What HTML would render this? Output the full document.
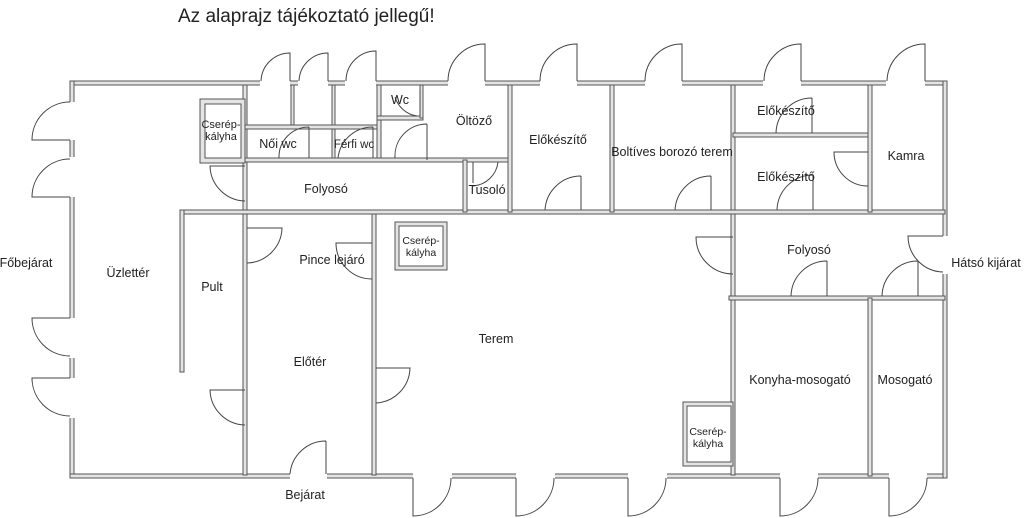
<!DOCTYPE html>
<html><head><meta charset="utf-8"><style>
html,body{margin:0;padding:0;background:#fff;}
svg{display:block;}
text{font-family:"Liberation Sans",sans-serif;fill:#222;}
</style></head><body>
<svg width="1024" height="518" viewBox="0 0 1024 518" xmlns="http://www.w3.org/2000/svg">
<text x="178" y="22" font-size="19">Az alaprajz tájékoztató jellegű!</text>
<g fill="#e4e4e4" stroke="#555" stroke-width="1">
<rect x="70" y="81" width="877" height="4"/>
<rect x="70" y="81" width="4" height="397"/>
<rect x="70" y="474" width="877" height="4"/>
<rect x="943" y="81" width="4" height="397"/>
<rect x="243" y="85" width="4" height="390"/>
<rect x="372" y="212" width="4" height="263"/>
<rect x="731" y="85" width="4" height="390"/>
<rect x="180" y="210" width="765" height="4"/>
<rect x="180" y="210" width="4" height="162"/>
<rect x="291" y="85" width="3" height="42"/>
<rect x="332" y="85" width="3" height="42"/>
<rect x="332" y="127" width="3" height="33"/>
<rect x="377" y="85" width="4" height="75"/>
<rect x="245" y="125" width="132" height="4"/>
<rect x="245" y="158" width="265" height="4"/>
<rect x="377" y="116" width="46" height="4"/>
<rect x="420" y="85" width="3" height="33"/>
<rect x="463" y="160" width="4" height="52"/>
<rect x="508" y="85" width="4" height="127"/>
<rect x="610" y="85" width="4" height="127"/>
<rect x="733" y="133" width="137" height="4"/>
<rect x="868" y="85" width="4" height="127"/>
<rect x="729" y="296" width="216" height="4"/>
<rect x="868" y="298" width="4" height="178"/>
<rect x="200" y="99" width="45" height="64"/>
<rect x="205" y="104" width="36" height="54" fill="#fff"/>
<rect x="395" y="222" width="52" height="48"/>
<rect x="399" y="226" width="44" height="40" fill="#fff"/>
<rect x="683" y="402" width="50" height="64"/>
<rect x="687" y="406" width="44" height="56" fill="#fff"/>
</g>
<g fill="#fff">
<rect x="260" y="80" width="30" height="6"/><rect x="298" y="80" width="30" height="6"/>
<rect x="345" y="80" width="31" height="6"/><rect x="448" y="80" width="37" height="6"/>
<rect x="540" y="80" width="37" height="6"/><rect x="645" y="80" width="37" height="6"/>
<rect x="763" y="80" width="38" height="6"/><rect x="886" y="80" width="39" height="6"/>
<rect x="69" y="102" width="6" height="38"/><rect x="69" y="157" width="6" height="40"/>
<rect x="69" y="318" width="6" height="40"/><rect x="69" y="378" width="6" height="40"/>
<rect x="413" y="473" width="39" height="6"/><rect x="516" y="473" width="39" height="6"/>
<rect x="628" y="473" width="39" height="6"/><rect x="780" y="473" width="38" height="6"/>
<rect x="889" y="473" width="38" height="6"/>
<rect x="942" y="236" width="6" height="38"/>
<rect x="290" y="473" width="37" height="6"/>
</g>
<g fill="none" stroke="#444" stroke-width="1">
<path d="M290 81V53A29 29 0 0 0 261 81"/>
<path d="M328 81V53A29 29 0 0 0 299 81"/>
<path d="M376 81V51A30 30 0 0 0 346 81"/>
<path d="M485 81V44A37 37 0 0 0 448 81"/>
<path d="M577 81V44A37 37 0 0 0 540 81"/>
<path d="M682 81V44A37 37 0 0 0 645 81"/>
<path d="M801 81V44A37 37 0 0 0 764 81"/>
<path d="M925 81V44A38 38 0 0 0 887 81"/>
<path d="M70 140H32A38 38 0 0 1 70 102"/>
<path d="M70 197H32A38 38 0 0 1 70 159"/>
<path d="M70 318H32A38 38 0 0 0 70 356"/>
<path d="M70 378H32A38 38 0 0 0 70 416"/>
<path d="M413 478V516A38 38 0 0 0 451 478"/>
<path d="M516 478V516A38 38 0 0 0 554 478"/>
<path d="M628 478V516A38 38 0 0 0 666 478"/>
<path d="M780 478V516A38 38 0 0 0 818 478"/>
<path d="M889 478V516A38 38 0 0 0 927 478"/>
<path d="M309 127V158M309 127A30 30 0 0 0 279 158"/>
<path d="M373 127V158M373 127A35 35 0 0 0 338 158"/>
<path d="M420 89V116M417 116A27 27 0 0 1 395 97"/>
<path d="M427 124V160M427 124A32 32 0 0 0 395 158"/>
<path d="M245 166H210A36 36 0 0 0 245 201"/>
<path d="M473 162V183M498 162A27 27 0 0 1 473 186"/>
<path d="M581 176V210M581 176A36 36 0 0 0 545 210"/>
<path d="M711 176V210M711 176A36 36 0 0 0 675 210"/>
<path d="M812 98V133M812 98A36 36 0 0 0 776 133"/>
<path d="M813 175V210M813 175A36 36 0 0 0 777 210"/>
<path d="M868 152H834A34 34 0 0 0 868 186"/>
<path d="M733 237H696A37 37 0 0 0 733 274"/>
<path d="M827 261V296M827 261A36 36 0 0 0 791 296"/>
<path d="M918 261V296M918 261A36 36 0 0 0 882 296"/>
<path d="M943 236H908A36 36 0 0 0 943 272"/>
<path d="M247 228H282A36 36 0 0 1 247 263"/>
<path d="M372 243H336A36 36 0 0 0 372 279"/>
<path d="M376 368H410A36 36 0 0 1 376 403"/>
<path d="M245 390H210A36 36 0 0 0 245 425"/>
<path d="M326 441V474M326 441A36 36 0 0 0 290 474"/>
</g>
<g font-size="12.5" text-anchor="middle">
<text x="221" y="128" font-size="11">Cserép-</text><text x="221" y="140" font-size="11">kályha</text>
<text x="278" y="148">Női wc</text>
<text x="354" y="148" font-size="11.5">Férfi wc</text>
<text x="400" y="104">Wc</text>
<text x="474" y="125">Öltöző</text>
<text x="558" y="144">Előkészítő</text>
<text x="672" y="156">Boltíves borozó terem</text>
<text x="786" y="115">Előkészítő</text>
<text x="786" y="181">Előkészítő</text>
<text x="906" y="160">Kamra</text>
<text x="326" y="193">Folyosó</text>
<text x="487" y="194">Tusoló</text>
<text x="809" y="254">Folyosó</text>
<text x="986" y="267">Hátsó kijárat</text>
<text x="26" y="267">Főbejárat</text>
<text x="128" y="277">Üzlettér</text>
<text x="212" y="291">Pult</text>
<text x="332" y="264">Pince lejáró</text>
<text x="421" y="244" font-size="10.5">Cserép-</text><text x="421" y="256" font-size="10.5">kályha</text>
<text x="496" y="343">Terem</text>
<text x="310" y="366">Előtér</text>
<text x="800" y="384">Konyha-mosogató</text>
<text x="905" y="384">Mosogató</text>
<text x="708" y="435" font-size="10.5">Cserép-</text><text x="708" y="447" font-size="10.5">kályha</text>
<text x="305" y="499">Bejárat</text>
</g>
</svg>
</body></html>
